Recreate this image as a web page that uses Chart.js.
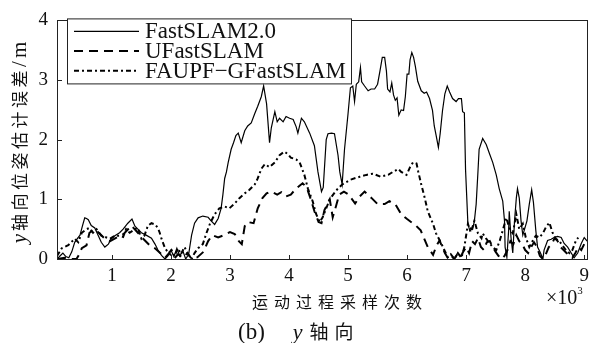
<!DOCTYPE html>
<html>
<head>
<meta charset="utf-8">
<script src="https://cdn.jsdelivr.net/npm/chart.js@4.4.1/dist/chart.umd.min.js"></script>
<style>
  html, body { margin: 0; padding: 0; background: #fff; }
  .can-con { width: 595px; height: 343px; }
</style>
</head>
<body>
<div class="can-con"><canvas id="myChart" width="595" height="343"></canvas></div>
<script>
// axis ticks (x in units of 10^3 samples)
const xTickValues = [1, 2, 3, 4, 5, 6, 7, 8, 9];
const yTickValues = [0, 1, 2, 3, 4];
const xRange = [0.07, 9.05];
const yRange = [0, 4];

const seriesNames = ["FastSLAM2.0", "UFastSLAM", "FAUPF\u2212GFastSLAM"];

// FastSLAM2.0 (solid)
const fastSlamPts = [
  [0.07,0.0],[0.12,0.05],[0.17,0.1],[0.22,0.04],[0.27,0.02],[0.32,0.12],[0.37,0.28],[0.42,0.35],
  [0.46,0.4],[0.5,0.55],[0.54,0.69],[0.57,0.68],[0.6,0.66],[0.65,0.56],[0.71,0.52],[0.77,0.39],
  [0.82,0.28],[0.88,0.2],[0.94,0.25],[0.99,0.34],[1.05,0.39],[1.13,0.44],[1.19,0.5],[1.27,0.6],
  [1.34,0.67],[1.39,0.55],[1.44,0.5],[1.5,0.44],[1.58,0.4],[1.67,0.35],[1.73,0.25],[1.78,0.15],
  [1.84,0.06],[1.9,0.0],[1.95,0.05],[2.0,0.15],[2.05,0.04],[2.1,0.18],[2.15,0.05],[2.2,0.14],
  [2.25,0.0],[2.3,0.08],[2.35,0.4],[2.4,0.6],[2.46,0.69],[2.54,0.72],[2.63,0.7],[2.68,0.64],
  [2.74,0.58],[2.8,0.68],[2.85,0.85],[2.88,1.08],[2.91,1.35],[2.94,1.46],[2.97,1.62],[3.02,1.84],
  [3.06,1.95],[3.1,2.07],[3.14,2.11],[3.19,1.95],[3.25,2.15],[3.3,2.23],[3.36,2.28],[3.42,2.44],
  [3.47,2.56],[3.53,2.72],[3.57,2.9],[3.62,2.6],[3.67,1.95],[3.7,2.2],[3.76,2.47],[3.8,2.3],
  [3.84,2.36],[3.9,2.3],[3.95,2.39],[4.01,2.36],[4.07,2.34],[4.12,2.22],[4.15,2.11],[4.21,2.36],
  [4.26,2.3],[4.35,2.11],[4.43,1.9],[4.49,1.46],[4.55,1.13],[4.58,1.2],[4.63,2.0],[4.66,2.1],
  [4.72,2.11],[4.77,2.1],[4.83,1.74],[4.86,1.46],[4.9,1.25],[4.94,1.84],[5.0,2.44],[5.04,2.87],
  [5.08,2.9],[5.11,2.64],[5.14,2.93],[5.18,2.97],[5.21,3.21],[5.23,2.97],[5.28,2.9],[5.34,2.82],
  [5.39,2.85],[5.45,2.85],[5.5,2.93],[5.54,3.15],[5.58,3.38],[5.62,3.38],[5.65,3.15],[5.67,2.85],
  [5.71,2.8],[5.74,2.95],[5.77,2.75],[5.8,2.66],[5.83,2.7],[5.86,2.41],[5.9,2.5],[5.94,2.49],
  [5.97,2.72],[6.0,3.1],[6.03,3.1],[6.05,3.34],[6.08,3.46],[6.11,3.38],[6.14,3.23],[6.18,2.98],
  [6.24,2.82],[6.29,2.78],[6.33,2.8],[6.38,2.69],[6.43,2.49],[6.46,2.23],[6.49,2.08],[6.53,1.87],
  [6.56,2.1],[6.6,2.49],[6.64,2.77],[6.68,2.9],[6.72,2.8],[6.77,2.69],[6.83,2.64],[6.87,2.69],
  [6.92,2.69],[6.94,2.47],[6.97,2.45],[6.99,1.5],[7.03,0.59],[7.06,0.48],[7.08,0.52],[7.11,0.5],
  [7.14,0.64],[7.17,0.92],[7.2,1.46],[7.22,1.84],[7.28,2.02],[7.34,1.92],[7.39,1.78],[7.45,1.62],
  [7.51,1.41],[7.56,1.18],[7.62,0.97],[7.65,0.64],[7.66,0.2],[7.69,0.03],[7.72,0.48],[7.73,0.8],
  [7.76,0.36],[7.79,0.1],[7.82,0.64],[7.85,1.02],[7.87,1.18],[7.9,1.02],[7.93,0.64],[7.96,0.4],
  [7.99,0.5],[8.03,0.64],[8.07,0.92],[8.11,1.16],[8.14,0.95],[8.18,0.48],[8.21,0.2],[8.26,0.1],
  [8.3,0.0],[8.32,0.15],[8.38,0.31],[8.44,0.33],[8.49,0.36],[8.55,0.38],[8.61,0.36],[8.66,0.26],
  [8.72,0.2],[8.78,0.1],[8.83,0.02],[8.89,0.1],[8.95,0.26],[9.0,0.36],[9.05,0.3]
];

// UFastSLAM (long dashes, lower curve)
const uFastSlamPts = [
  [0.07,0.0],[0.2,0.02],[0.3,0.0],[0.4,0.0],[0.43,0.05],[0.49,0.18],[0.57,0.23],[0.62,0.44],
  [0.71,0.5],[0.8,0.42],[0.88,0.34],[0.97,0.3],[1.1,0.37],[1.2,0.42],[1.33,0.56],[1.44,0.44],
  [1.53,0.34],[1.64,0.23],[1.73,0.18],[1.84,0.08],[1.9,0.02],[1.97,0.1],[2.05,0.0],[2.12,0.08],
  [2.2,0.02],[2.28,0.1],[2.35,0.0],[2.45,0.03],[2.55,0.12],[2.63,0.3],[2.7,0.4],[2.8,0.36],
  [2.9,0.4],[3.0,0.45],[3.08,0.42],[3.15,0.3],[3.2,0.25],[3.25,0.55],[3.3,0.62],[3.4,0.6],
  [3.47,0.85],[3.55,1.02],[3.62,1.1],[3.7,1.13],[3.8,1.08],[3.87,1.12],[3.95,1.05],[4.03,1.08],
  [4.12,1.18],[4.23,1.27],[4.3,1.2],[4.37,1.0],[4.43,0.8],[4.5,0.62],[4.55,0.6],[4.6,0.82],
  [4.69,1.0],[4.74,0.7],[4.8,0.9],[4.85,1.08],[4.93,1.13],[5.01,1.08],[5.12,0.93],[5.2,1.05],
  [5.28,1.13],[5.4,1.02],[5.5,0.92],[5.62,0.92],[5.7,0.97],[5.8,0.92],[5.9,0.75],[6.0,0.67],
  [6.15,0.56],[6.23,0.48],[6.35,0.2],[6.44,0.07],[6.5,0.23],[6.55,0.31],[6.64,0.1],[6.7,0.0],
  [6.75,0.05],[6.8,0.0],[6.85,0.08],[6.9,0.02],[6.95,0.12],[7.0,0.2],[7.05,0.1],[7.1,0.3],
  [7.15,0.25],[7.2,0.35],[7.25,0.2],[7.3,0.15],[7.35,0.28],[7.4,0.3],[7.45,0.2],[7.5,0.12],
  [7.55,0.05],[7.6,0.0],[7.65,0.05],[7.7,0.15],[7.75,0.3],[7.8,0.25],[7.85,0.4],[7.9,0.3],
  [7.95,0.25],[8.0,0.15],[8.05,0.1],[8.1,0.2],[8.15,0.28],[8.2,0.2],[8.25,0.05],[8.3,0.0],
  [8.35,0.08],[8.4,0.2],[8.45,0.25],[8.5,0.35],[8.55,0.3],[8.6,0.2],[8.65,0.15],[8.7,0.1],
  [8.75,0.05],[8.8,0.02],[8.85,0.1],[8.9,0.2],[8.95,0.15],[9.0,0.25]
];

// FAUPF-GFastSLAM (short dashes, upper dashed curve)
const faupfPts = [
  [0.07,0.05],[0.15,0.18],[0.26,0.23],[0.37,0.34],[0.43,0.28],[0.49,0.44],[0.57,0.5],[0.62,0.52],
  [0.68,0.44],[0.74,0.5],[0.82,0.39],[0.88,0.37],[0.97,0.34],[1.05,0.39],[1.13,0.39],[1.19,0.37],
  [1.24,0.5],[1.3,0.44],[1.39,0.5],[1.44,0.52],[1.5,0.34],[1.55,0.39],[1.61,0.56],[1.67,0.6],
  [1.73,0.58],[1.78,0.52],[1.81,0.44],[1.84,0.34],[1.9,0.18],[1.96,0.1],[2.01,0.15],[2.06,0.05],
  [2.12,0.18],[2.17,0.08],[2.23,0.2],[2.29,0.08],[2.35,0.0],[2.4,0.1],[2.46,0.18],[2.54,0.25],
  [2.6,0.43],[2.66,0.59],[2.74,0.75],[2.82,0.85],[2.91,0.88],[2.99,0.85],[3.08,0.93],[3.16,1.02],
  [3.25,1.1],[3.33,1.16],[3.42,1.25],[3.47,1.35],[3.53,1.51],[3.59,1.59],[3.67,1.54],[3.76,1.62],
  [3.84,1.74],[3.92,1.8],[3.98,1.76],[4.03,1.7],[4.12,1.67],[4.18,1.62],[4.26,1.41],[4.32,1.18],
  [4.4,0.97],[4.46,0.75],[4.52,0.62],[4.57,0.7],[4.63,0.85],[4.69,1.0],[4.8,1.15],[4.9,1.25],
  [5.04,1.33],[5.2,1.38],[5.31,1.41],[5.42,1.43],[5.55,1.38],[5.68,1.41],[5.76,1.46],[5.85,1.51],
  [5.9,1.46],[5.99,1.41],[6.05,1.54],[6.1,1.62],[6.16,1.6],[6.19,1.46],[6.24,1.25],[6.3,1.02],
  [6.35,0.8],[6.44,0.59],[6.49,0.43],[6.58,0.26],[6.63,0.15],[6.69,0.03],[6.74,0.08],[6.8,0.0],
  [6.86,0.1],[6.92,0.02],[6.97,0.2],[7.03,0.59],[7.08,0.45],[7.14,0.64],[7.2,0.43],[7.26,0.35],
  [7.28,0.43],[7.34,0.34],[7.4,0.26],[7.45,0.2],[7.51,0.15],[7.57,0.31],[7.62,0.48],[7.68,0.69],
  [7.74,0.5],[7.79,0.43],[7.85,0.75],[7.9,0.5],[7.96,0.59],[8.01,0.36],[8.07,0.2],[8.13,0.31],
  [8.18,0.39],[8.24,0.36],[8.3,0.43],[8.35,0.53],[8.41,0.61],[8.46,0.45],[8.52,0.34],[8.58,0.3],
  [8.63,0.23],[8.69,0.15],[8.75,0.1],[8.8,0.15],[8.86,0.31],[8.9,0.36]
];

const serif = "'Liberation Serif', 'Times New Roman', serif";
const cjk = "'Noto Sans CJK SC', sans-serif";
const ink = "#111";

const toXY = (pts) => pts.map((p) => ({ x: p[0], y: p[1] }));

// draws runs of text one after another along the current x direction
function drawRuns(ctx, runs, x, y) {
  let cx = x;
  for (const r of runs) {
    ctx.font = r.font;
    ctx.letterSpacing = r.spacing || "0px";
    ctx.fillText(r.text, cx, y + (r.dy || 0));
    cx += ctx.measureText(r.text).width + (r.gap || 0);
  }
}
function runsWidth(ctx, runs) {
  let w = 0;
  for (const r of runs) {
    ctx.font = r.font;
    ctx.letterSpacing = r.spacing || "0px";
    w += ctx.measureText(r.text).width + (r.gap || 0);
  }
  return w;
}

const decorPlugin = {
  id: "decor",
  afterDatasetsDraw(chart) {
    const ctx = chart.ctx;
    const a = chart.chartArea;
    const xs = chart.scales.x;
    const ys = chart.scales.y;
    ctx.save();
    ctx.strokeStyle = "#222";
    ctx.lineWidth = 1;
    ctx.setLineDash([]);
    ctx.strokeRect(Math.round(a.left) + 0.5, Math.round(a.top) + 0.5,
      Math.round(a.right - a.left), Math.round(a.bottom - a.top));
    // inward tick marks
    ctx.beginPath();
    xTickValues.forEach((v) => {
      const px = Math.round(xs.getPixelForValue(v)) + 0.5;
      ctx.moveTo(px, a.bottom);
      ctx.lineTo(px, a.bottom - 4);
    });
    yTickValues.forEach((v) => {
      const py = Math.round(ys.getPixelForValue(v)) + 0.5;
      ctx.moveTo(a.left, py);
      ctx.lineTo(a.left + 5, py);
    });
    ctx.stroke();
    ctx.restore();
  },
  afterDraw(chart) {
    const ctx = chart.ctx;
    const a = chart.chartArea;
    ctx.save();
    ctx.fillStyle = ink;

    // legend box
    const bx = a.left + 10, by = a.top - 2, bw = 284, bh = 65;
    ctx.fillStyle = "#fff";
    ctx.fillRect(bx, by, bw, bh);
    ctx.strokeStyle = "#222";
    ctx.lineWidth = 1;
    ctx.strokeRect(bx + 0.5, by + 0.5, bw, bh);
    chart.data.datasets.forEach((ds, i) => {
      const ly = by + 13 + i * 19.7;
      ctx.strokeStyle = "#000";
      ctx.lineWidth = ds.borderWidth;
      ctx.setLineDash(ds.borderDash || []);
      ctx.beginPath();
      ctx.moveTo(bx + 7, ly);
      ctx.lineTo(bx + 72, ly);
      ctx.stroke();
      ctx.setLineDash([]);
      ctx.fillStyle = ink;
      ctx.font = "23px " + serif;
      ctx.textBaseline = "alphabetic";
      ctx.textAlign = "left";
      ctx.fillText(ds.label, bx + 78, ly + 7, bw - 83);
    });

    // x axis title
    ctx.fillStyle = ink;
    ctx.textBaseline = "alphabetic";
    ctx.textAlign = "left";
    const xTitle = [{ text: "运动过程采样次数", font: "16px " + cjk, spacing: "6px" }];
    const xw = runsWidth(ctx, xTitle);
    drawRuns(ctx, xTitle, 337 - xw / 2 + 3, 308);

    // x10^3 exponent
    drawRuns(ctx, [
      { text: "×10", font: "20px " + serif },
      { text: "3", font: "11px " + serif, dy: -10 }
    ], 546, 304);

    // caption
    drawRuns(ctx, [
      { text: "(b)", font: "23px " + serif, gap: 28 },
      { text: "y", font: "italic 22px " + serif, gap: 7 },
      { text: "轴向", font: "19px " + cjk, spacing: "6px" }
    ], 238, 339);

    // y axis title, rotated
    const yTitle = [
      { text: "y", font: "italic 21px " + serif, gap: 3 },
      { text: "轴向位姿估计误差", font: "17px " + cjk, spacing: "3.5px" },
      { text: "/m", font: "21px " + serif, spacing: "3px" }
    ];
    const yw = runsWidth(ctx, yTitle);
    ctx.translate(26, 141);
    ctx.rotate(-Math.PI / 2);
    drawRuns(ctx, yTitle, -yw / 2, 0);
    ctx.restore();
  }
};

const config = {
  type: "line",
  data: {
    datasets: [
      {
        label: seriesNames[0],
        data: toXY(fastSlamPts),
        borderColor: "#000",
        borderWidth: 1.2,
        borderDash: [],
      },
      {
        label: seriesNames[1],
        data: toXY(uFastSlamPts),
        borderColor: "#000",
        borderWidth: 2,
        borderDash: [9, 6],
      },
      {
        label: seriesNames[2],
        data: toXY(faupfPts),
        borderColor: "#000",
        borderWidth: 2,
        borderDash: [5, 3, 2, 3],
      },
    ],
  },
  options: {
    responsive: false,
    animation: false,
    devicePixelRatio: 1,
    elements: {
      point: { radius: 0 },
      line: { tension: 0, fill: false },
    },
    layout: { padding: { top: 15, right: 7, left: 0, bottom: 0 } },
    scales: {
      x: {
        type: "linear",
        min: xRange[0],
        max: xRange[1],
        afterBuildTicks: (s) => { s.ticks = xTickValues.map((v) => ({ value: v })); },
        afterFit: (s) => { s.height = 84; },
        grid: { drawOnChartArea: false, drawTicks: false },
        border: { display: false },
        ticks: {
          padding: 6,
          color: ink,
          font: { family: serif, size: 19 },
          maxRotation: 0,
          autoSkip: false,
          callback: (v) => String(v),
        },
      },
      y: {
        type: "linear",
        min: yRange[0],
        max: yRange[1],
        afterBuildTicks: (s) => { s.ticks = yTickValues.map((v) => ({ value: v })); },
        afterFit: (s) => { s.width = 57; },
        grid: { drawOnChartArea: false, drawTicks: false },
        border: { display: false },
        ticks: {
          padding: 9,
          color: ink,
          font: { family: serif, size: 19 },
          callback: (v) => String(v),
        },
      },
    },
    plugins: {
      legend: { display: false },
      tooltip: { enabled: false },
    },
  },
  plugins: [decorPlugin],
};

const myChart = new Chart(document.getElementById("myChart"), config);
</script>
</body>
</html>
